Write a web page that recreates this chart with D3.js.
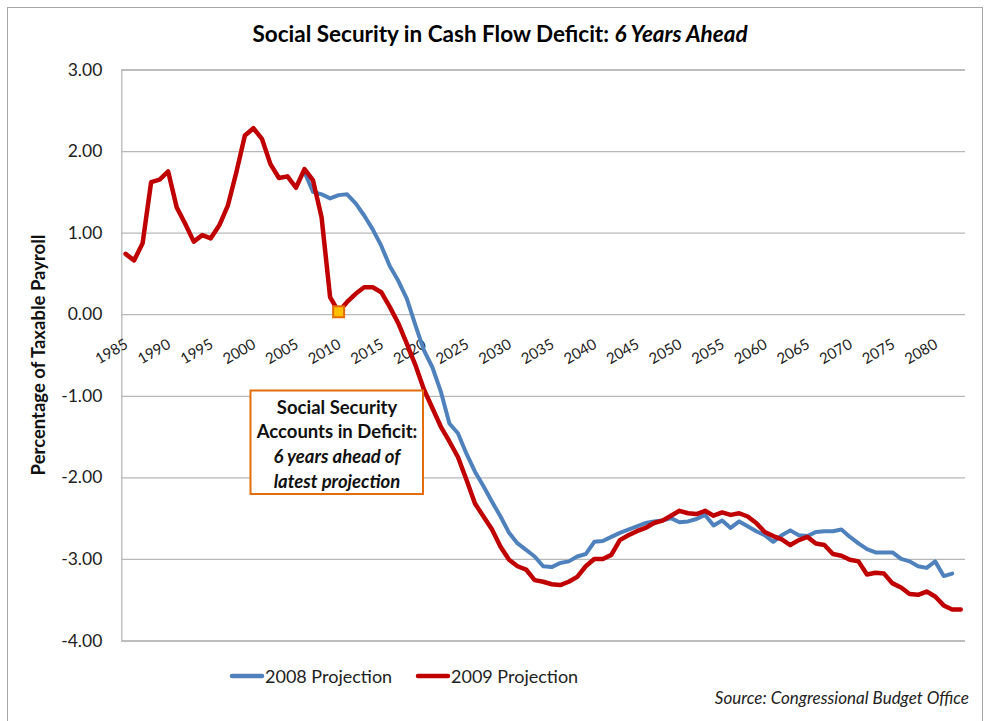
<!DOCTYPE html>
<html>
<head>
<meta charset="utf-8">
<script src="https://cdn.jsdelivr.net/npm/d3@7"></script>
<style>
  html, body { margin: 0; padding: 0; background: #ffffff; }
  svg { display: block; font-family: Lato, "Open Sans", "Noto Sans", sans-serif; }
</style>
</head>
<body>
<svg id="chart" width="985" height="721"></svg>
<script>
// Years on the category axis
const years = d3.range(1985, 2084);

// 2009 projection (percentage of taxable payroll), 1985–2083
const proj2009 = [
  0.74, 0.66, 0.87, 1.62, 1.65, 1.75, 1.31, 1.11, 0.89, 0.97,
  0.93, 1.09, 1.33, 1.74, 2.19, 2.28, 2.15, 1.84, 1.67, 1.69,
  1.55, 1.78, 1.64, 1.19, 0.21, 0.03, 0.15, 0.25, 0.33, 0.33,
  0.27, 0.09, -0.11, -0.36, -0.62, -0.92, -1.15, -1.38, -1.56, -1.75,
  -2.03, -2.32, -2.48, -2.64, -2.85, -3.01, -3.09, -3.13, -3.26, -3.28,
  -3.31, -3.32, -3.28, -3.22, -3.09, -3.00, -3.00, -2.95, -2.77, -2.71,
  -2.66, -2.62, -2.56, -2.53, -2.47, -2.41, -2.44, -2.45, -2.41, -2.47,
  -2.43, -2.46, -2.44, -2.48, -2.56, -2.67, -2.72, -2.76, -2.83, -2.77,
  -2.73, -2.81, -2.83, -2.94, -2.96, -3.01, -3.03, -3.19, -3.17, -3.18,
  -3.30, -3.35, -3.43, -3.44, -3.40, -3.46, -3.57, -3.62, -3.62
];

// 2008 projection, 1985–2083 (history not repeated; runs 2006–2082)
const proj2008 = [
  null, null, null, null, null, null, null, null, null, null,
  null, null, null, null, null, null, null, null, null, null,
  null, 1.74, 1.50, 1.47, 1.42, 1.46, 1.47, 1.36, 1.21, 1.04,
  0.84, 0.59, 0.41, 0.19, -0.13, -0.44, -0.65, -0.95, -1.34, -1.46,
  -1.71, -1.93, -2.11, -2.30, -2.48, -2.68, -2.81, -2.89, -2.97, -3.09,
  -3.10, -3.05, -3.03, -2.97, -2.94, -2.79, -2.78, -2.73, -2.68, -2.64,
  -2.60, -2.56, -2.54, -2.53, -2.50, -2.55, -2.54, -2.51, -2.46, -2.59,
  -2.53, -2.62, -2.54, -2.60, -2.66, -2.71, -2.79, -2.71, -2.65, -2.71,
  -2.72, -2.67, -2.66, -2.66, -2.64, -2.73, -2.81, -2.88, -2.92, -2.92,
  -2.92, -3.00, -3.03, -3.09, -3.11, -3.03, -3.21, -3.18, null
];

// Axis ticks
const yTicks = [3, 2, 1, 0, -1, -2, -3, -4];
const xTickYears = d3.range(1985, 2081, 5);

// Highlighted point: the year the 2009 projection turns to deficit
const deficitYear = 2010;

const seriesNames = ["2008 Projection", "2009 Projection"];
const seriesColors = ["#4f81bd", "#c00000"];

const svg = d3.select("#chart");

// Chart frame
svg.append("rect")
  .attr("x", 7.5).attr("y", 7.5)
  .attr("width", 975).attr("height", 730)
  .attr("fill", "#ffffff")
  .attr("stroke", "#a6a6a6").attr("stroke-width", 1);

const plot = { left: 121.3, right: 965, top: 69.5, bottom: 640.5 };

const x = d3.scalePoint().domain(years).range([plot.left, plot.right]).padding(0.5);
const y = d3.scaleLinear().domain([-4, 3]).range([plot.bottom, plot.top]);

// Horizontal gridlines
const yAxis = d3.axisLeft(y)
  .tickValues(yTicks)
  .tickSize(-(plot.right - plot.left))
  .tickPadding(19)
  .tickFormat(v => v.toFixed(2));

const gy = svg.append("g")
  .attr("transform", `translate(${plot.left},0)`)
  .call(yAxis);
gy.select(".domain").attr("stroke", "#b8b8b8").attr("stroke-width", 1.3);
gy.selectAll(".tick line").attr("stroke", "#b8b8b8").attr("stroke-width", 1.3);
gy.selectAll(".tick text")
  .attr("fill", "#222")
  .attr("font-size", 17.5)
  .attr("font-family", "Lato, 'Open Sans', sans-serif");

// Category labels, rotated, hung below the zero line
const xAxis = d3.axisBottom(x)
  .tickValues(xTickYears)
  .tickSize(0)
  .tickFormat(d3.format("d"));
const gx = svg.append("g")
  .attr("transform", `translate(0,${y(0)})`)
  .call(xAxis);
gx.select(".domain").remove();
gx.selectAll(".tick text")
  .attr("fill", "#222")
  .attr("font-size", 15)
  .attr("font-family", "Lato, 'Open Sans', sans-serif")
  .attr("text-anchor", "end")
  .attr("dy", null)
  .attr("y", 0)
  .attr("transform", "translate(3,33) rotate(-30)");

// Lines
const line = d3.line()
  .defined(d => d.v !== null)
  .x(d => x(d.year))
  .y(d => y(d.v));

const series = [proj2008, proj2009].map((vals, i) => ({
  name: seriesNames[i],
  color: seriesColors[i],
  points: years.map((yr, j) => ({ year: yr, v: vals[j] }))
}));

svg.append("g").selectAll("path")
  .data(series)
  .join("path")
  .attr("d", s => line(s.points))
  .attr("fill", "none")
  .attr("stroke", s => s.color)
  .attr("stroke-width", (s, i) => i === 0 ? 4 : 4.5)
  .attr("stroke-linejoin", "round")
  .attr("stroke-linecap", "round");

// Marker on the first deficit year
const mIdx = years.indexOf(deficitYear);
svg.append("rect")
  .attr("x", x(deficitYear) - 5.5)
  .attr("y", y(proj2009[mIdx]) - 5.5)
  .attr("width", 11).attr("height", 11)
  .attr("fill", "#ffc000")
  .attr("stroke", "#e46c0a")
  .attr("stroke-width", 2);

// Title
const title = svg.append("text")
  .attr("x", 500).attr("y", 42)
  .attr("text-anchor", "middle")
  .attr("font-size", 22.5)
  .attr("font-weight", "bold")
  .attr("fill", "#000");
title.append("tspan").text("Social Security in Cash Flow Deficit: ");
title.append("tspan").attr("font-style", "italic").text("6 Years Ahead");

// Y-axis title
svg.append("text")
  .attr("transform", "translate(45,355) rotate(-90)")
  .attr("text-anchor", "middle")
  .attr("font-size", 18.5)
  .attr("font-weight", "bold")
  .attr("fill", "#111")
  .text("Percentage of Taxable Payroll");

// Call-out box
const box = svg.append("g");
box.append("rect")
  .attr("x", 250.5).attr("y", 390.5)
  .attr("width", 172.5).attr("height", 103.5)
  .attr("fill", "#ffffff")
  .attr("stroke", "#e46c0a")
  .attr("stroke-width", 2);
const boxLines = [
  { t: "Social Security", it: false },
  { t: "Accounts in Deficit:", it: false },
  { t: "6 years ahead of", it: true },
  { t: "latest projection", it: true }
];
box.selectAll("text")
  .data(boxLines)
  .join("text")
  .attr("x", 337)
  .attr("y", (d, i) => 413.5 + i * 24.8)
  .attr("text-anchor", "middle")
  .attr("font-size", 18.5)
  .attr("font-weight", "bold")
  .attr("font-style", d => d.it ? "italic" : "normal")
  .attr("fill", "#111")
  .text(d => d.t);

// Legend
const legendX = [232, 418];
const lg = svg.append("g").selectAll("g")
  .data(series)
  .join("g")
  .attr("transform", (d, i) => `translate(${legendX[i]},676)`);
lg.append("line")
  .attr("x1", 0).attr("x2", 30)
  .attr("stroke", d => d.color)
  .attr("stroke-width", 4.5)
  .attr("stroke-linecap", "round");
lg.append("text")
  .attr("x", 33).attr("y", 6.5)
  .attr("font-size", 18)
  .attr("fill", "#222")
  .text(d => d.name);

// Source note
svg.append("text")
  .attr("x", 969).attr("y", 704)
  .attr("text-anchor", "end")
  .attr("font-size", 17)
  .attr("font-style", "italic")
  .attr("fill", "#222")
  .text("Source: Congressional Budget Office");
</script>
</body>
</html>
